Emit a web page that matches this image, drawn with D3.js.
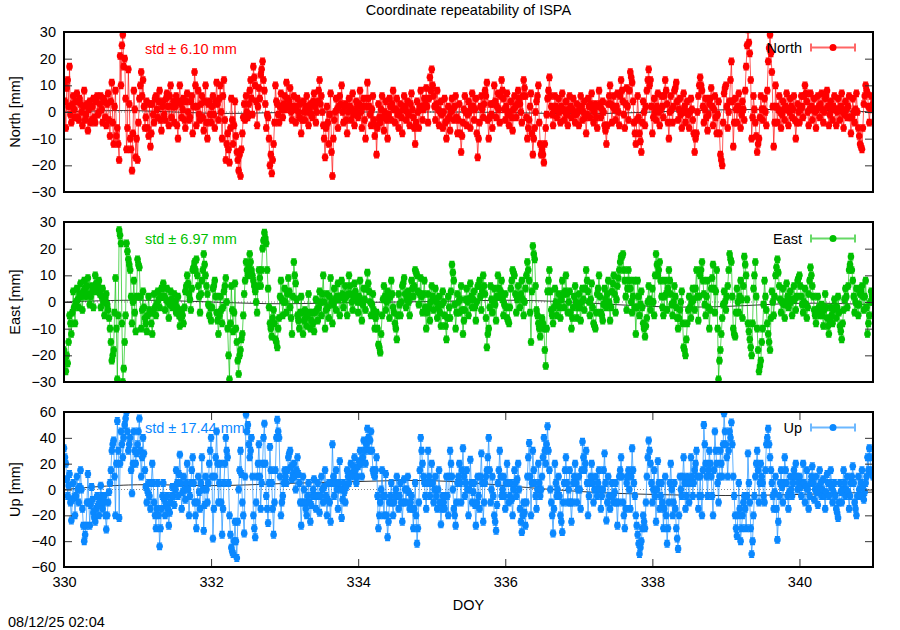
<!DOCTYPE html>
<html><head><meta charset="utf-8">
<script src="https://cdn.jsdelivr.net/npm/d3@7"></script>
<style>
body{margin:0;background:#fff}
svg{display:block;font-family:"Liberation Sans",Arial,sans-serif}
</style>
</head><body>
<svg id="chart" width="900" height="630"></svg>
<script>
// ---------- data ----------
const title = "Coordinate repeatability of ISPA";
const stamp = "08/12/25 02:04";
const xLabel = "DOY";
const doyStart = 330, samplesPerDay = 40;
const xDomain = [330, 341];
const xTicks = [330, 332, 334, 336, 338, 340];

// residuals (mm): samples at DOY 330 + i/40
const north = [
10,-6,12,17,-4,6,-2,7,-3,3,-5,8,-1,-7,4,-3,5,-4,6,0,
6,-4,4,-5,7,-9,11,-12,8,-6,-18,10,29,20,-14,16,-10,-22,8,-17,
-18,5,15,12,-6,4,-9,-13,3,-4,6,-2,8,-7,4,-3,7,-5,10,2,
-4,6,-10,10,-2,5,-6,7,-3,4,-8,15,-5,8,-3,6,-7,10,-10,4,
-4,6,-6,11,-3,10,-10,12,-18,-8,-19,5,-12,4,-15,-22,-24,-8,3,6,
-2,8,5,17,10,-5,9,14,19,8,-6,-2,-20,-23,-12,10,3,-4,7,-2,
6,11,2,9,-3,6,-4,5,-2,-8,4,-3,6,-5,3,-2,7,-4,4,12,
6,-5,-17,2,-12,7,-24,-3,5,-6,6,10,-4,3,-8,5,-3,7,-5,4,
-2,8,-6,5,-10,11,2,-5,6,-9,-16,3,-4,6,-7,4,-10,5,-3,8,
-4,5,-6,3,-8,6,-3,4,-5,7,-2,-12,4,-6,8,-3,5,9,-4,13,
16,6,-3,8,-5,4,-6,5,-10,2,-7,5,-3,6,-8,3,-15,-4,6,-5,
4,-6,7,-3,5,-17,-4,6,-2,8,11,-10,3,-6,10,-2,7,-4,12,5,
-3,7,-5,4,-7,6,-2,8,3,-4,12,6,-10,-3,7,-16,-6,4,10,-12,
-14,-19,-6,5,13,2,-5,6,-2,5,-4,7,-3,4,-5,6,-2,5,-4,3,
-5,6,-3,4,-8,5,-2,7,-4,3,-6,8,-2,4,-5,-12,3,10,-4,6,
-3,7,-5,12,4,-6,9,-3,15,11,-4,-12,6,-8,-15,4,-5,8,16,12,
-8,5,-3,7,-5,6,-2,12,3,-10,6,-4,8,11,-3,5,-6,7,-4,4,
-6,5,-3,-15,-8,6,13,8,-4,5,-7,3,9,-5,6,-8,4,-16,-20,7,
10,-6,4,19,-13,5,-4,7,-6,4,-3,17,31,22,-10,6,-4,-15,-10,6,
-3,5,-5,19,29,15,-13,10,-4,6,-6,4,-3,7,-5,5,-2,6,-10,3,
-4,6,-2,10,4,-5,7,-3,5,-6,6,-2,7,-4,5,8,-5,4,-3,6,
-5,5,-3,7,-6,4,-2,6,-8,5,-4,7,-6,-12,-14,3,10,7,-4,6,
3];
// samples at DOY 330 + (i+0.5)/40
const northMid = [
4,9,2,-1,3,1,4,-2,5,0,2,-3,3,1,-4,2,-2,4,-1,3,
1,5,-2,3,-3,4,-4,2,-9,-12,21,25,17,5,-6,3,-14,-8,1,-10,
-4,10,6,2,-2,-6,3,-8,-1,5,1,4,-3,2,-1,5,2,6,-2,4,
2,-5,4,3,1,-3,4,0,-2,6,2,10,2,-1,3,-2,4,-4,3,-1,
2,-1,4,3,5,0,6,-3,-12,-14,-6,-3,-5,-9,-18,-16,-14,-2,-3,0,
3,12,-1,13,4,2,5,16,12,3,-1,-10,-16,-18,-4,4,-1,2,1,3,
1,5,4,0,2,1,2,0,3,-3,0,2,0,1,-1,4,2,0,8,3,
0,-10,-6,-4,-1,-15,-10,0,1,2,3,0,2,-3,0,2,1,-1,0,2,
3,0,2,-3,2,5,-1,1,-3,-5,-6,-2,1,-2,0,-3,-1,2,3,1,
1,-1,0,-2,1,2,0,-1,3,1,-6,-4,0,2,2,1,3,2,5,8,
10,2,3,1,0,-1,0,-4,-3,-2,0,1,2,-2,-3,-8,-9,1,0,-1,
0,2,2,1,-8,-10,2,1,3,6,-3,-2,-1,3,4,2,1,6,8,1,
2,-1,0,-2,1,2,3,5,0,6,9,-2,-6,2,-8,-10,0,6,-4,-16,
-16,-12,-1,8,6,-1,1,2,1,0,2,1,0,-1,1,2,1,0,-1,0,
1,2,0,-2,-1,2,3,1,0,-2,2,3,1,0,-7,-5,6,3,2,1,
2,0,6,8,-1,3,2,8,13,4,-8,-3,-2,-11,-4,0,2,12,10,2,
-2,0,2,0,1,2,6,8,-4,0,1,2,9,4,1,-1,0,2,0,-1,
0,1,-8,-10,0,10,10,2,1,-2,-1,5,2,1,-2,-1,-8,-18,-4,9,
2,0,12,4,-4,1,2,1,-1,1,8,25,26,12,-2,1,-9,-12,-2,1,
1,0,8,24,22,2,-4,2,1,0,-1,1,2,1,0,2,1,-3,-4,0,
1,2,6,7,0,1,2,1,0,1,2,3,1,0,6,2,-1,1,2,1,
0,1,2,0,-1,1,2,-2,-2,0,1,0,-9,-13,-6,6,8,2,1,2];

const east = [
-18,-26,-23,-5,-12,4,-8,5,-2,7,-3,8,2,9,-1,6,-2,10,4,8,
-2,5,-5,3,-3,-10,-22,-18,9,-29,27,22,-30,-15,22,16,12,-8,8,-11,
16,13,-10,4,-6,-11,2,-4,-12,3,-5,4,-2,5,7,-3,5,-6,4,-2,
3,-4,2,-9,-3,-8,4,10,3,-3,12,15,16,6,-4,8,18,10,3,-5,
-7,5,8,-4,-12,2,-8,4,9,-10,-29,6,-11,7,-15,-27,-18,-12,3,15,
10,18,12,8,4,-4,12,6,20,26,22,5,-8,-13,-3,-14,-17,-6,8,-5,
5,-4,9,-2,-12,15,7,-5,-10,2,-12,-3,-9,3,-10,-4,-11,1,-7,4,
-5,10,-10,3,-6,9,-8,5,-3,7,-5,8,-2,6,-5,10,3,-3,7,2,
-4,8,-7,5,-3,11,4,-5,3,-10,-4,-16,-19,-5,6,-3,4,-6,8,-2,
-8,-14,3,-5,6,9,-2,4,-5,8,2,12,10,-1,9,-4,8,-10,3,-7,
6,-3,5,-6,2,-9,4,-5,-14,2,-6,14,8,-10,3,-4,6,-12,-3,5,
-5,7,-2,4,-7,6,8,-3,10,3,-17,-10,6,-4,5,-7,10,2,8,-5,
3,-6,-8,5,12,10,-4,6,-2,8,-5,5,15,8,-15,21,16,-3,-8,-13,
-6,-10,-24,4,12,-3,-8,5,-5,3,-6,8,-2,10,-4,4,-10,-2,6,-6,
3,-7,5,-3,12,4,-5,7,-8,-10,3,10,-4,-7,5,-2,8,-7,4,10,
-4,6,12,17,18,8,-3,12,5,-4,8,-12,8,-5,4,-8,-13,-6,6,-3,
5,-5,18,10,15,2,-5,8,-3,12,3,-5,6,-2,-10,-3,4,-17,-20,-8,
2,-6,5,-3,12,-7,10,15,3,-5,8,-10,5,14,-4,12,-29,-18,-6,4,
-3,6,18,15,-10,-13,5,-4,8,-6,17,10,-8,-14,-20,5,15,-10,-26,-22,
-10,8,-3,-12,-18,4,-5,10,16,6,-4,5,-6,7,-2,4,-5,6,-3,8,
10,2,-4,5,-6,3,13,6,-3,-8,2,-5,-1,-9,3,-6,-12,-2,-8,1,
-6,2,-9,-14,-3,5,-2,12,17,8,-4,5,-5,3,6,-3,8,-12,-5,4,
0];
const eastMid = [
-22,-20,-15,-8,-4,-2,0,1,3,2,4,5,6,3,2,4,5,7,6,3,
2,0,1,-1,-6,-15,-20,-4,-10,-5,25,-8,-25,-5,19,14,2,0,-4,2,
14,2,-3,-2,-8,-5,-3,-8,-4,-2,-1,1,2,5,2,1,0,-1,1,0,
0,-2,-5,-6,-5,-2,6,7,1,5,13,12,10,2,3,12,14,6,-1,-2,
-2,6,2,-7,-5,-3,-2,6,0,-20,-8,-3,-4,-10,-22,-20,-14,-5,8,12,
14,15,10,6,0,6,9,12,23,24,12,-2,-10,-6,-8,-15,-10,2,1,0,
0,3,4,-6,2,10,1,-7,-4,-4,-7,-6,-5,-4,-7,-8,-4,-3,-2,0,
3,0,-3,-2,2,0,-1,1,2,1,2,3,1,2,3,6,0,2,4,0,
2,0,-1,1,5,7,0,-1,-3,-6,-10,-17,-12,1,2,0,1,2,3,-4,
-10,-5,-1,0,7,3,1,0,2,5,6,11,4,3,2,3,-2,-4,-2,0,
2,1,0,-2,-4,-1,0,-9,-6,-2,4,11,-1,-4,0,1,-3,-7,1,0,
1,2,1,-2,0,6,2,4,6,-6,-12,-2,1,0,-1,2,5,4,1,-1,
-2,-7,-2,8,11,3,1,2,3,1,0,10,12,-4,4,18,6,-5,-10,-9,
-8,-18,-10,8,4,-5,-2,0,-1,-2,1,3,4,3,0,-4,-6,2,0,-2,
-2,0,1,5,8,0,1,-2,-9,-4,5,2,-5,-1,1,3,0,-2,7,3,
1,9,15,17,12,2,5,8,0,2,-2,-2,2,-1,-2,-10,-9,0,1,0,
0,10,14,12,8,-2,2,3,5,8,-1,0,2,-6,-6,0,-8,-18,-14,-3,
-2,0,1,5,2,2,12,8,-1,2,-2,-3,9,5,4,-10,-22,-12,-1,0,
2,12,16,2,-12,-4,0,2,1,6,14,1,-11,-17,-8,10,2,-18,-24,-15,
-1,2,-8,-15,-6,0,2,13,11,1,0,-1,0,2,1,0,1,1,2,9,
6,-1,0,-1,-2,8,10,2,-5,-3,-2,-3,-5,-3,-2,-9,-7,-5,-3,-2,
-2,-4,-11,-8,1,2,6,14,12,2,0,-1,-1,4,2,2,-2,-8,0,2];

const up = [
32,20,-5,12,-24,5,-20,10,-10,15,-15,-40,-28,12,-28,2,-18,-25,-5,-20,
3,-15,-5,-31,-10,5,30,38,-20,53,-22,45,25,50,60,30,40,-3,45,20,
35,55,10,40,15,-10,5,-15,20,-10,-30,5,-44,-15,5,-20,-5,-28,-10,2,
-12,15,-5,27,-15,10,-8,20,-20,5,25,-10,-30,10,-15,25,-32,10,-10,20,
40,-38,10,45,-10,20,-35,5,40,25,-20,-45,-50,-25,-53,0,30,-10,-34,58,
50,25,40,-20,-37,10,35,-15,20,51,-5,-26,33,5,-35,15,54,40,-20,-5,
15,5,25,30,8,20,0,25,5,-28,10,-10,-20,5,-25,-5,8,-15,5,-18,
10,-10,15,-20,5,-25,35,-5,15,-15,22,-22,5,-10,15,5,20,10,25,5,
18,30,10,38,20,47,30,45,15,10,25,-30,-10,15,-20,12,-37,-10,5,-20,
-5,10,-15,5,-25,8,-10,10,-15,-5,-30,5,-42,-10,40,20,5,-15,30,-5,
20,-10,10,-15,15,-27,-5,-15,10,-20,30,10,-15,-28,5,20,-10,32,-5,15,
-20,23,-10,5,-28,10,-15,28,-25,5,15,40,-10,10,-20,-32,5,30,-5,10,
-15,20,-10,5,-20,15,-5,20,-15,-33,-10,-28,10,36,-20,30,5,-15,20,-5,
10,40,20,49,15,-10,-34,20,-5,10,-20,-33,5,25,-10,15,-25,5,20,-10,
10,-15,37,15,30,-20,5,20,-10,10,-5,15,-15,0,28,-24,10,-15,5,-10,
5,-28,10,25,-10,-30,5,15,-15,32,5,-20,-35,-50,-40,-20,-30,10,38,20,
-10,15,-25,22,-15,5,-30,10,-42,-10,20,-20,5,-30,-46,10,-5,25,-15,10,
-10,25,-5,15,30,-15,10,-20,50,20,-5,30,10,-20,45,20,-10,30,10,59,
35,10,45,52,10,-20,-36,5,-40,-20,-5,-30,28,-10,-50,-20,10,30,-10,20,
5,-10,35,47,25,5,-15,10,-39,-5,15,-10,25,5,-15,10,-5,15,20,0,
10,-5,20,-10,15,-15,5,18,-8,10,-12,15,-5,8,-15,12,-5,15,-10,5,
-15,-22,5,-10,15,-5,10,-15,5,18,-10,-20,10,-5,15,-8,5,25,32,15,
10];
const upMid = [
25,8,3,-10,-8,-6,-5,0,2,0,-28,-35,-10,-10,-12,-8,-22,-15,-12,-8,
-5,-10,-20,-20,-2,15,35,10,20,30,20,35,40,55,45,35,15,20,30,28,
45,30,25,28,2,-2,-5,5,5,-20,-15,-20,-30,-5,-8,-12,-15,-18,-5,-5,
0,5,12,5,-2,0,5,0,-5,15,5,-20,-10,-2,5,0,-12,0,5,30,
10,-15,25,20,5,-10,-15,20,30,5,-35,-48,-40,-40,-25,15,12,-20,10,45,
35,30,10,-30,-10,20,10,5,40,20,-15,5,15,-15,-10,40,45,10,-10,5,
10,15,28,18,12,10,15,12,-10,-10,0,-15,-5,-10,-12,0,-5,-5,-5,-5,
0,2,-5,-8,-10,5,10,5,0,5,0,-8,-2,2,10,12,12,18,15,10,
22,20,25,30,35,40,38,30,12,15,-5,-20,0,-5,-5,-20,-25,-5,-10,-10,
0,-5,-5,-10,-10,0,0,-2,-10,-15,-15,-20,-30,15,30,10,-5,5,10,5,
5,0,-5,0,-10,-15,-10,-5,-5,10,20,0,-20,-10,10,5,15,10,5,0,
0,5,-2,-12,-10,-5,10,5,-10,10,25,15,0,-5,-25,-12,15,10,0,-5,
5,5,-5,-8,0,5,8,0,-25,-20,-18,-10,25,10,5,15,-5,0,5,0,
25,30,35,30,0,-20,-15,5,0,-5,-25,-10,15,5,0,-10,-10,10,5,0,
0,15,25,20,5,-5,10,5,0,0,5,0,-5,15,5,-10,-5,-5,-5,-2,
-10,-10,15,10,-20,-15,10,0,10,15,-5,-28,-42,-45,-30,-25,-10,25,30,5,
0,-5,0,5,-5,-10,-15,-20,-30,5,0,-10,-15,-38,-20,0,10,5,-5,5,
5,10,5,20,10,-5,-5,15,35,10,15,20,-5,15,30,5,10,20,35,45,
25,30,40,35,-5,-30,-20,-15,-30,-10,-15,-5,5,-30,-40,-5,20,15,5,10,
-5,15,40,35,15,-5,-2,-15,-25,5,2,5,15,-5,-2,0,5,10,10,5,
2,5,5,2,0,-5,10,5,0,-2,2,5,0,-5,-2,5,5,2,-2,-5,
-18,-10,-2,0,5,0,-2,-5,10,5,-15,-5,0,5,2,-2,10,15,25,12];

// formal errors (mm)
const northErr = 1.2, eastErr = 1.2, upErr = 2.6;

// smoothed trend (mm), one value per day 330..341
const trendDays = [330,331,332,333,334,335,336,337,338,339,340,341];
const northTrend = [0,1,-1,0,0,0,0,-1,0,1,1,0];
const eastTrend = [0,1,0,-1,0,0,1,0,-2,-2,0,-1];
const upTrend = [0,5,2,5,6,8,3,-2,-4,-5,-4,-2];

const northTicks = [-30,-20,-10,0,10,20,30];
const eastTicks = [-30,-20,-10,0,10,20,30];
const upTicks = [-60,-40,-20,0,20,40,60];

const seriesNames = ["North","East","Up"];
const yLabels = ["North [mm]","East [mm]","Up [mm]"];
const stdLabels = ["std \u00b1 6.10 mm","std \u00b1 6.97 mm","std \u00b1 17.44 mm"];
const colors = ["#ff0000","#00c000","#0a88ff"];

// ---------- drawing ----------
const svg = d3.select("#chart");
const left = 64, right = 873;
const FONT = "14.5px";

const x = d3.scaleLinear().domain(xDomain).range([left, right]);

const panels = [
  {values: north, mid: northMid, err: northErr, trend: northTrend, domain: [-30,30], ticks: northTicks, top: 32, bottom: 192, legY: 47.5, stdY: 49},
  {values: east,  mid: eastMid,  err: eastErr,  trend: eastTrend,  domain: [-30,30], ticks: eastTicks,  top: 222, bottom: 382, legY: 238.5, stdY: 239},
  {values: up,    mid: upMid,    err: upErr,    trend: upTrend,    domain: [-60,60], ticks: upTicks,    top: 412, bottom: 567, legY: 427.5, stdY: 428}
];

svg.append("text").attr("x", 468.5).attr("y", 10).attr("text-anchor","middle")
  .attr("dominant-baseline","central").style("font-size", FONT).text(title);

panels.forEach((p, k) => {
  const color = colors[k];
  const y = d3.scaleLinear().domain(p.domain).range([p.bottom, p.top]);
  const g = svg.append("g");
  const clipId = "clip" + k;
  svg.append("clipPath").attr("id", clipId).append("rect")
    .attr("x", left).attr("y", p.top).attr("width", right - left).attr("height", p.bottom - p.top);
  const data = p.values.map((v, i) => ({t: doyStart + i / samplesPerDay, v}))
    .concat(p.mid.map((v, i) => ({t: doyStart + (i + 0.5) / samplesPerDay, v})))
    .sort((a, b) => a.t - b.t);
  const plot = g.append("g").attr("clip-path", `url(#${clipId})`);

  // zero axis (dotted)
  plot.append("line").attr("x1", left).attr("x2", right).attr("y1", y(0)).attr("y2", y(0))
    .attr("stroke", "#888").attr("stroke-width", 1).attr("stroke-dasharray", "1,2");
  // trend
  plot.append("path").datum(trendDays.map((d, i) => [d, p.trend[i]]))
    .attr("d", d3.line().x(d => x(d[0])).y(d => y(d[1])).curve(d3.curveBasis))
    .attr("fill", "none").attr("stroke", "#000").attr("stroke-width", 0.8);
  // connecting line
  plot.append("path").datum(data)
    .attr("d", d3.line().x(d => x(d.t)).y(d => y(d.v)))
    .attr("fill", "none").attr("stroke", color).attr("stroke-opacity", 0.65).attr("stroke-width", 1);
  // error bars
  plot.append("g").selectAll("path").data(data).join("path")
    .attr("d", d => {
      const cx = x(d.t), y1 = y(d.v - p.err), y2 = y(d.v + p.err);
      return `M${cx},${y1}V${y2}M${cx-2.5},${y1}H${cx+2.5}M${cx-2.5},${y2}H${cx+2.5}`;
    })
    .attr("stroke", color).attr("stroke-width", 1.2).attr("fill", "none");
  // points
  plot.append("g").selectAll("circle").data(data).join("circle")
    .attr("cx", d => x(d.t)).attr("cy", d => y(d.v)).attr("r", 3.3).attr("fill", color);

  // y axes
  const yl = g.append("g").attr("transform", `translate(${left},0)`)
    .call(d3.axisLeft(y).tickValues(p.ticks).tickSize(-8).tickPadding(8).tickFormat(d3.format("d")));
  const yr = g.append("g").attr("transform", `translate(${right},0)`)
    .call(d3.axisRight(y).tickValues(p.ticks).tickSize(-8).tickFormat(""));
  [yl, yr].forEach(a => {
    a.select(".domain").remove();
    a.selectAll("line").attr("stroke", "#333");
    a.selectAll("text").style("font-size", FONT).attr("fill", "#000").attr("font-family", null);
  });

  if (k === 2) {
    const xb = g.append("g").attr("transform", `translate(0,${p.bottom})`)
      .call(d3.axisBottom(x).tickValues(xTicks).tickSize(-8).tickPadding(10).tickFormat(d3.format("d")));
    const xt = g.append("g").attr("transform", `translate(0,${p.top})`)
      .call(d3.axisTop(x).tickValues(xTicks).tickSize(-8).tickFormat(""));
    [xb, xt].forEach(a => {
      a.select(".domain").remove();
      a.selectAll("line").attr("stroke", "#333");
      a.selectAll("text").style("font-size", FONT).attr("fill", "#000").attr("font-family", null);
    });
  }

  // frame
  g.append("rect").attr("x", left).attr("y", p.top).attr("width", right - left).attr("height", p.bottom - p.top)
    .attr("fill", "none").attr("stroke", "#000").attr("stroke-width", 2);

  // y label
  g.append("text").attr("transform", `translate(15,${(p.top + p.bottom) / 2}) rotate(-90)`)
    .attr("text-anchor", "middle").attr("dominant-baseline", "central").style("font-size", FONT).text(yLabels[k]);

  // std annotation
  g.append("text").attr("x", 145).attr("y", p.stdY).attr("dominant-baseline", "central")
    .attr("fill", color).style("font-size", FONT).text(stdLabels[k]);

  // legend
  const lg = g.append("g");
  lg.append("text").attr("x", 802).attr("y", p.legY).attr("text-anchor", "end").attr("dominant-baseline", "central")
    .style("font-size", FONT).text(seriesNames[k]);
  lg.append("path").attr("d", `M811,${p.legY}H855M811,${p.legY-4}V${p.legY+4}M855,${p.legY-4}V${p.legY+4}`)
    .attr("stroke", color).attr("stroke-opacity", 0.6).attr("stroke-width", 2).attr("fill", "none");
  lg.append("circle").attr("cx", 833).attr("cy", p.legY).attr("r", 3.5).attr("fill", color);
});

svg.append("text").attr("x", 468.5).attr("y", 605).attr("text-anchor", "middle")
  .attr("dominant-baseline", "central").style("font-size", FONT).text(xLabel);
svg.append("text").attr("x", 8).attr("y", 622).attr("dominant-baseline", "central")
  .style("font-size", FONT).text(stamp);
</script>
</body></html>
